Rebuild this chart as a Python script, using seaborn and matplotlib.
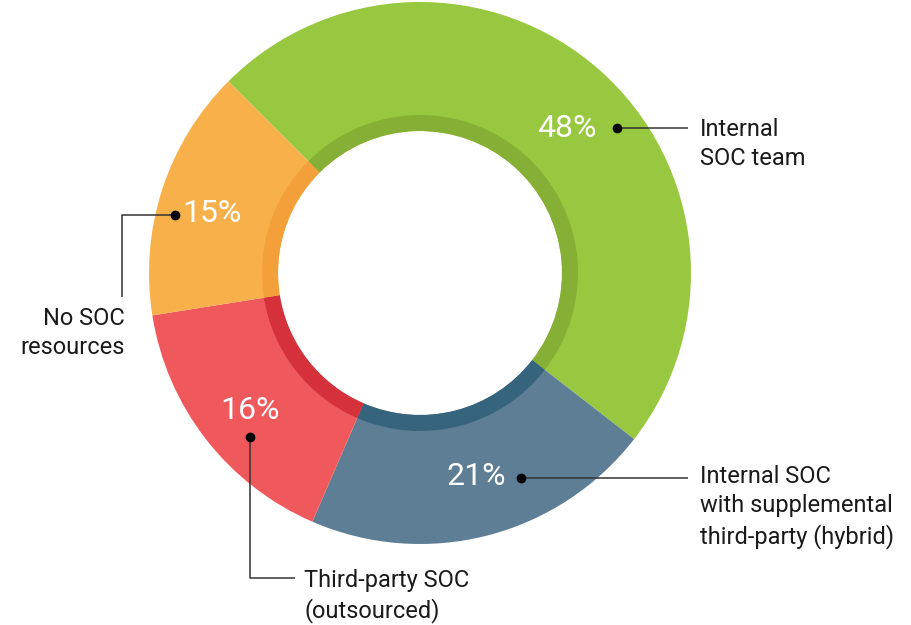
import matplotlib
matplotlib.use("Agg")
import matplotlib.pyplot as plt
import seaborn as sns

sns.set_theme(style="white")
plt.rcParams["font.family"] = ["Roboto", "DejaVu Sans"]

# data
labels = ["Internal\nSOC team",
          "Internal SOC\nwith supplemental\nthird-party (hybrid)",
          "Third-party SOC\n(outsourced)",
          "No SOC\nresources"]
shares = [48, 21, 16, 15]
colors = ["#97c83f", "#5e7e96", "#f0595c", "#f8b04a"]
ring_colors = ["#86b035", "#36647d", "#d4313a", "#f3a03b"]

W, H = 911, 625
CX, CY, R = 420, 273, 271


def px(x, y):
    # pixel position (y down) -> data units of the pie
    return (x - CX) / R, (CY - y) / R


fig = plt.figure(figsize=(W / 100, H / 100), dpi=100)
ax = fig.add_axes([0, 0, 1, 1])

ax.pie(shares, colors=colors, startangle=135, counterclock=False, radius=1.0,
       wedgeprops=dict(width=1 - 142 / R, linewidth=0))
ax.pie(shares, colors=ring_colors, startangle=135, counterclock=False,
       radius=158 / R, wedgeprops=dict(width=16 / R, linewidth=0))

ax.set_xlim(-CX / R, (W - CX) / R)
ax.set_ylim((CY - H) / R, CY / R)
ax.set_aspect("equal")
ax.axis("off")

pct_kw = dict(color="white", fontsize=23, ha="center", va="center")
lab_kw = dict(color="#1a1a1a", fontsize=17, linespacing=1.35)
line_kw = dict(color="#333333", lw=1.1, solid_capstyle="butt")
dot_kw = dict(marker="o", ms=6, color="black", ls="none")

# callouts: (pct pos, dot pos, path, label pos, label ha)
callouts = [
    ((567, 129), (617, 128), [(617, 128), (688, 128)], (700, 144), "left", "center"),
    ((476, 477), (521, 478), [(521, 478), (688, 478)], (700, 507), "left", "center"),
    ((250, 411), (250, 437), [(250, 437), (250, 578), (295, 578)], (304, 596), "left", "center"),
    ((212, 214), (175, 215), [(175, 215), (122, 215), (122, 297)], (125, 333), "right", "center"),
]

for val, lab, (ppos, dpos, path, lpos, ha, va) in zip(shares, labels, callouts):
    ax.text(*px(*ppos), f"{val}%", **pct_kw)
    xs, ys = zip(*[px(*p) for p in path])
    ax.plot(xs, ys, **line_kw)
    ax.plot(*px(*dpos), **dot_kw)
    ax.text(*px(*lpos), lab, ha=ha, va=va, multialignment=ha, **lab_kw)

fig.savefig("out.png", dpi=100)
